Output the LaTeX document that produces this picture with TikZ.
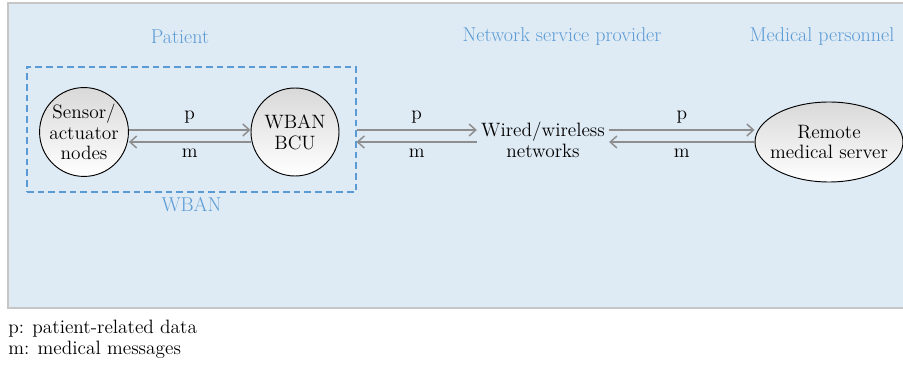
\documentclass[tikz,border=0pt]{standalone}
\usetikzlibrary{arrows.meta,positioning,shapes.geometric}
\definecolor{panelblue}{HTML}{DEEAF4}
\definecolor{titleblue}{HTML}{5B9BD5}
\definecolor{flowgray}{HTML}{8E8E8E}
\tikzset{
  unit/.style={circle, draw=black, line width=0.7pt, top color=gray!30, bottom color=white, minimum size=66pt, inner sep=0pt, align=center, font=\fontsize{14.5}{15.5}\selectfont},
  server/.style={ellipse, draw=black, line width=0.7pt, top color=gray!30, bottom color=white, minimum width=111pt, minimum height=60pt, inner xsep=-12pt, inner ysep=0pt, align=center},
  flow/.style={draw=flowgray, line width=1.1pt, -{Straight Barb[length=5pt,width=9pt]}},
  grouplabel/.style={text=titleblue, font=\fontsize{15}{16}\selectfont},
  wbanbox/.style={draw=titleblue, dashed, dash pattern=on 5pt off 3pt, line width=0.8pt}
}
\begin{document}
\begin{tikzpicture}[x=0.75pt,y=-0.75pt, font=\fontsize{14.5}{15.5}\selectfont]
\clip (0,0) rectangle (903,370);
\draw[draw=gray!45, line width=1.1pt, fill=panelblue] (8,3) rectangle (920,308);
\node[grouplabel] (patient) at (180,37) {Patient};
\node[grouplabel] (provider) at (562,37) {Network service provider};
\node[grouplabel, anchor=west] (personnel) at (745,37) {Medical personnel};
\node[wbanbox, minimum width=246.75pt, minimum height=93.75pt] (wban) at (191.5,129.5) {};
\node[grouplabel, below=0pt of wban] (wbanlabel) {WBAN};
\node[unit] (sensor) at (84,132) {Sensor/\\actuator\\nodes};
\node[unit] (bcu) at (295,132) {WBAN\\BCU};
\node[align=center, inner sep=3pt] (net) at (543,140) {Wired/wireless\\networks};
\node[server] (server) at (829,142) {Remote\\medical server};
\coordinate (plane) at (0,130);
\coordinate (mlane) at (0,142);
\draw[flow] (sensor.east |- plane) -- (bcu.west |- plane) node[midway, above=1pt] {p};
\draw[flow] (bcu.west |- mlane) -- (sensor.east |- mlane) node[midway, below=1pt] {m};
\draw[flow] (wban.east |- plane) -- (net.west |- plane) node[midway, above=1pt] {p};
\draw[flow] (net.west |- mlane) -- (wban.east |- mlane) node[midway, below=1pt] {m};
\draw[flow] (net.east |- plane) -- (server.west |- plane) node[midway, above=1pt] {p};
\draw[flow] (server.west |- mlane) -- (net.east |- mlane) node[midway, below=1pt] {m};
\node[anchor=north west, align=left, inner sep=0pt] (legend) at (8,320) {p: patient-related data\\m: medical messages};
\end{tikzpicture}
\end{document}
